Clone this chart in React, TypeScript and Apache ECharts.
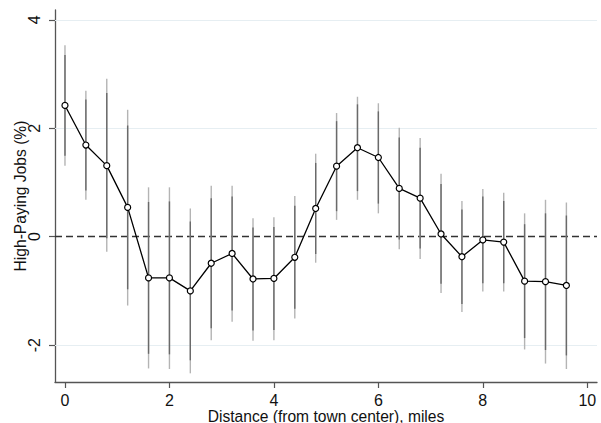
import React, { useEffect, useRef } from "react";
import * as echarts from "echarts";

const distance = [0, 0.4, 0.8, 1.2, 1.6, 2.0, 2.4, 2.8, 3.2, 3.6, 4.0, 4.4, 4.8, 5.2, 5.6, 6.0, 6.4, 6.8, 7.2, 7.6, 8.0, 8.4, 8.8, 9.2, 9.6];
const estimate = [2.42, 1.69, 1.31, 0.54, -0.76, -0.76, -1.0, -0.49, -0.31, -0.78, -0.77, -0.38, 0.52, 1.3, 1.64, 1.46, 0.89, 0.71, 0.05, -0.37, -0.06, -0.1, -0.82, -0.83, -0.9];
const ci95Low = [1.31, 0.68, -0.28, -1.27, -2.43, -2.44, -2.52, -1.91, -1.57, -1.92, -1.91, -1.51, -0.48, 0.31, 0.68, 0.43, -0.23, -0.41, -1.04, -1.39, -1.01, -1.01, -2.08, -2.34, -2.44];
const ci95High = [3.53, 2.69, 2.91, 2.34, 0.91, 0.91, 0.52, 0.94, 0.94, 0.34, 0.36, 0.75, 1.53, 2.28, 2.58, 2.46, 2.01, 1.82, 1.16, 0.66, 0.88, 0.81, 0.43, 0.68, 0.63];
const ci90Low = [1.49, 0.85, -0.03, -0.97, -2.16, -2.17, -2.28, -1.69, -1.36, -1.73, -1.72, -1.33, -0.32, 0.47, 0.84, 0.61, -0.05, -0.22, -0.87, -1.24, -0.86, -0.86, -1.87, -2.09, -2.19];
const ci90High = [3.35, 2.53, 2.65, 2.05, 0.64, 0.65, 0.28, 0.71, 0.74, 0.17, 0.18, 0.57, 1.36, 2.13, 2.44, 2.31, 1.83, 1.64, 0.97, 0.5, 0.74, 0.66, 0.23, 0.43, 0.39];
const xTicks = [0, 2, 4, 6, 8, 10];
const yTicks = [-2, 0, 2, 4];
const yGridLines = [-2, 2, 4];

const FONT = "Liberation Sans, Arial, sans-serif";

function barSeries(low: number[], high: number[], color: string, z: number) {
  return {
    type: "custom",
    z,
    silent: true,
    data: distance.map((d, i) => [d, low[i], high[i]]),
    encode: { x: 0, y: [1, 2] },
    renderItem: (_params: any, api: any) => {
      const x = api.value(0);
      const p1 = api.coord([x, api.value(1)]);
      const p2 = api.coord([x, api.value(2)]);
      return {
        type: "line",
        shape: { x1: p1[0], y1: p1[1], x2: p2[0], y2: p2[1] },
        style: { stroke: color, lineWidth: 1.4 },
      };
    },
  };
}

export default function App() {
  const ref = useRef<HTMLDivElement>(null);
  useEffect(() => {
    if (!ref.current) return;
    const chart = echarts.init(ref.current, null, { renderer: "svg" });
    chart.setOption({
      animation: false,
      backgroundColor: "#ffffff",
      grid: { left: 55, right: 4, top: 10, bottom: 41, containLabel: false, outerBoundsMode: "none" },
      xAxis: {
        type: "value",
        min: -0.191,
        max: 10.186,
        name: "Distance (from town center), miles",
        nameLocation: "middle",
        nameGap: 26,
        nameMoveOverlap: false,
        nameTextStyle: { fontFamily: FONT, fontSize: 15.6, lineHeight: 16, color: "#111" },
        axisLine: { show: true, onZero: false, lineStyle: { color: "#555", width: 1.3 } },
        axisTick: { show: true, customValues: xTicks, length: 6, lineStyle: { color: "#555", width: 1.2 } },
        axisLabel: { customValues: xTicks, fontFamily: FONT, fontSize: 16, lineHeight: 16, color: "#111", margin: 10 },
        splitLine: { show: false },
      },
      yAxis: {
        type: "value",
        min: -2.68,
        max: 4.18,
        name: "High-Paying Jobs (%)",
        nameLocation: "middle",
        nameGap: 27,
        nameMoveOverlap: false,
        nameRotate: 90,
        nameTextStyle: { fontFamily: FONT, fontSize: 15.6, lineHeight: 16, color: "#111" },
        axisLine: { show: true, onZero: false, lineStyle: { color: "#555", width: 1.3 } },
        axisTick: { show: true, customValues: yTicks, length: 6, lineStyle: { color: "#555", width: 1.2 } },
        axisLabel: { customValues: yTicks, rotate: 90, fontFamily: FONT, fontSize: 16, lineHeight: 16, color: "#111", margin: 13 },
        splitLine: { show: false },
      },
      series: [
        barSeries(ci95Low, ci95High, "#b4b4b4", 2),
        barSeries(ci90Low, ci90High, "#6a6a6a", 3),
        {
          type: "line",
          z: 5,
          data: distance.map((d, i) => [d, estimate[i]]),
          symbol: "circle",
          symbolSize: 6,
          showSymbol: true,
          lineStyle: { color: "#000", width: 1.3 },
          itemStyle: { color: "#fff", borderColor: "#000", borderWidth: 1.2 },
          markLine: {
            silent: true,
            symbol: "none",
            label: { show: false },
            z: 1,
            data: [
              ...yGridLines.map((v) => ({ yAxis: v, lineStyle: { color: "#e6eef2", width: 1, type: "solid" } })),
              { yAxis: 0, lineStyle: { color: "#333", width: 1.4, type: [7, 4] } },
            ],
          },
        },
      ],
    });
    return () => chart.dispose();
  }, []);
  return <div ref={ref} style={{ position: "fixed", left: 0, top: 0, width: 601, height: 423 }} />;
}
